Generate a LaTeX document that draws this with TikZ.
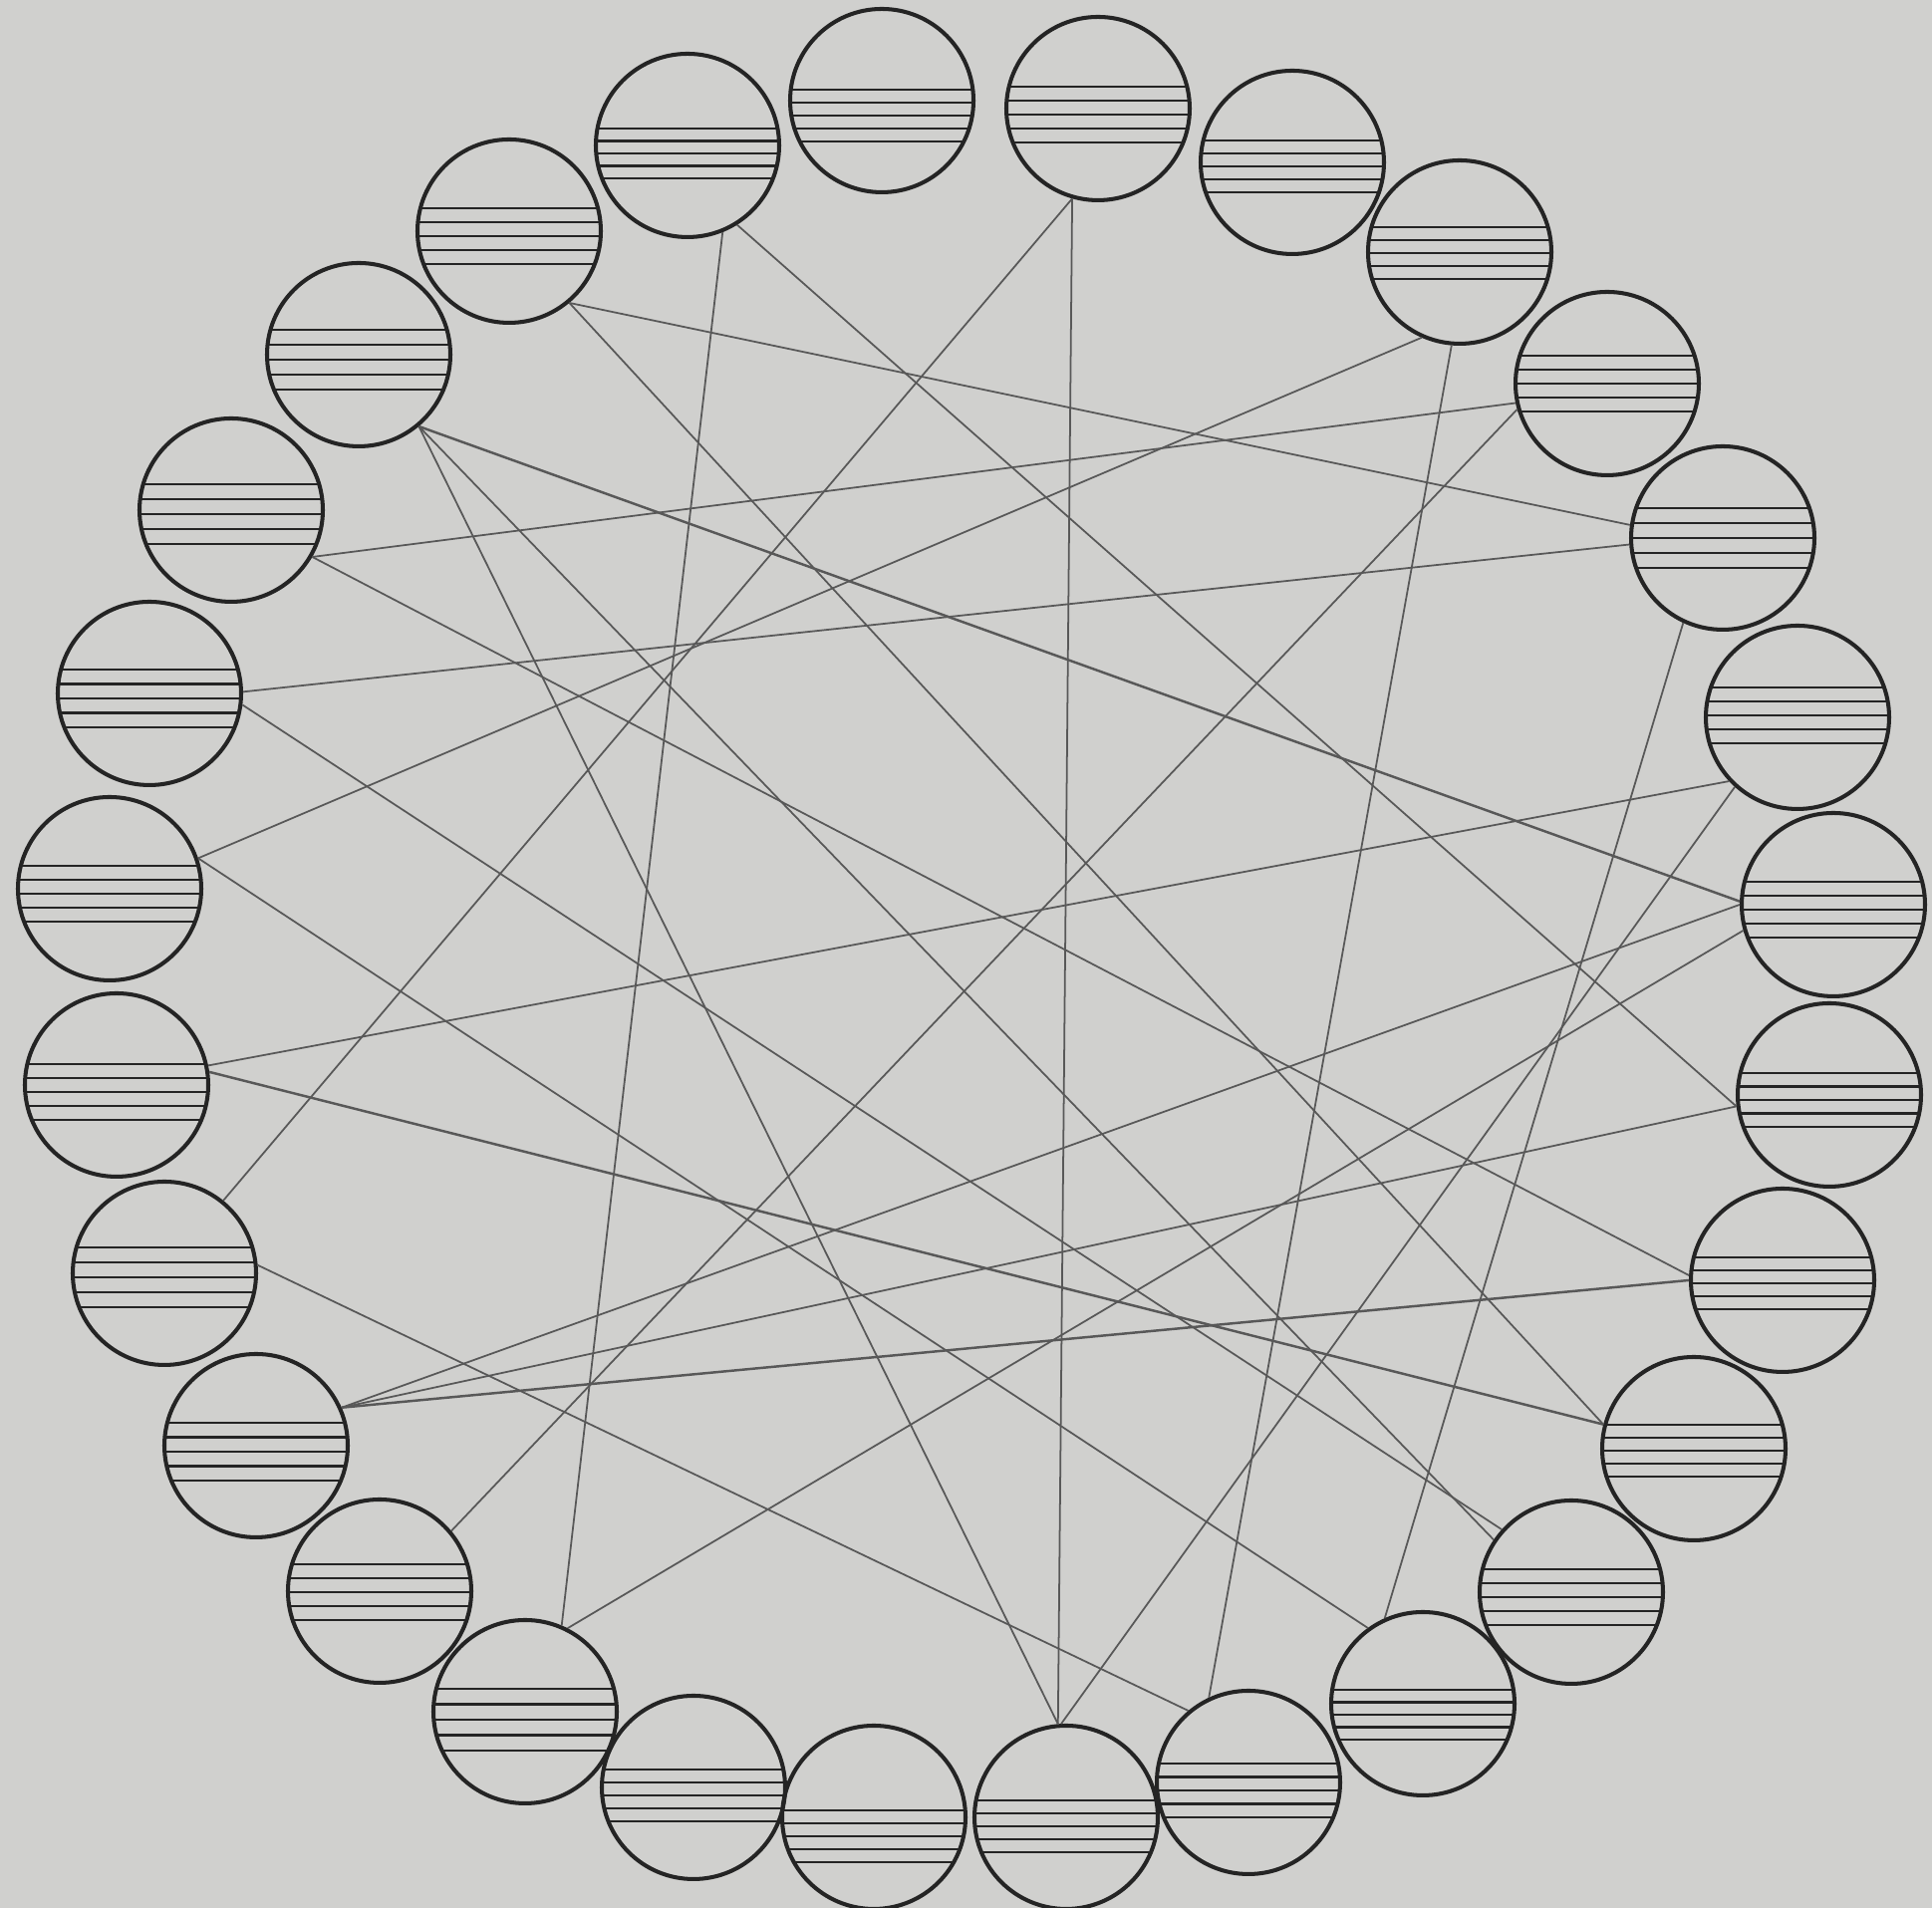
\documentclass[tikz,border=0pt]{standalone}
\usepackage{tikz}
\definecolor{paper}{RGB}{208,208,206}
\definecolor{ink}{RGB}{36,36,36}
\definecolor{pencil}{RGB}{88,88,88}
\begin{document}
\begin{tikzpicture}[
  disc/.style={draw=ink, circle, line width=1.15pt, minimum size=1.84cm, inner sep=0pt},
  staff/.style={draw=ink, line width=0.7pt},
  link/.style={draw=pencil, line width=0.5pt},
  heavy/.style={link, line width=0.7pt}
]
\useasboundingbox (0,0) rectangle (19.39,19.15);
\fill[paper] (0,0) rectangle (19.39,19.15);
\foreach \n/\x/\y in {1/8.85/18.14, 2/11.02/18.06, 3/12.97/17.52, 4/14.65/16.62,
  5/16.13/15.30, 6/17.29/13.75, 7/18.04/11.95, 8/18.40/10.07, 9/18.36/8.16,
  10/17.89/6.30, 11/17.00/4.61, 12/15.77/3.17, 13/14.28/2.05, 14/12.53/1.26,
  15/10.70/0.91, 16/8.77/0.91, 17/6.96/1.21, 18/5.27/1.97, 19/3.81/3.18,
  20/2.57/4.64, 21/1.65/6.37, 22/1.17/8.26, 23/1.10/10.23, 24/1.50/12.19,
  25/2.32/14.03, 26/3.60/15.59, 27/5.11/16.83, 28/6.90/17.69} {
  \node[disc] (c\n) at (\x,\y) {};
}
\foreach \n/\t/\s in {1/-0.11/0.13, 2/-0.22/0.14, 3/-0.22/0.13, 4/-0.25/0.13,
  5/-0.28/0.14, 6/-0.30/0.15, 7/-0.30/0.14, 8/-0.23/0.14, 9/-0.22/0.135,
  10/-0.23/0.13, 11/-0.24/0.13, 12/-0.23/0.14, 13/-0.14/0.125, 14/-0.19/0.135,
  15/-0.17/0.13, 16/-0.07/0.13, 17/-0.18/0.13, 18/-0.23/0.155, 19/-0.27/0.14,
  20/-0.23/0.145, 21/-0.26/0.15, 22/-0.21/0.14, 23/-0.23/0.14, 24/-0.24/0.145,
  25/-0.26/0.15, 26/-0.25/0.15, 27/-0.23/0.14, 28/-0.17/0.125} {
  \foreach \k in {0,...,4} {
    \pgfmathsetmacro{\yy}{-(\t+\k*\s)}
    \pgfmathsetmacro{\hw}{sqrt(0.8464-(\yy)*(\yy))}
    \draw[staff, shift={(c\n.center)}] (-\hw,\yy) -- (\hw,\yy);
  }
}
\draw[link] (c28.-68) -- (c18.67);
\draw[link] (c28.-58) -- (c9.187);
\draw[link] (c27.-50) -- (c6.172);
\draw[link] (c27.-50) -- (c11.165);
\draw[heavy] (c26.-50) -- (c8.178);
\draw[link] (c26.-50) -- (c12.146);
\draw[link] (c26.-50) -- (c15.95);
\draw[link] (c25.-30) -- (c5.192);
\draw[link] (c25.-30) -- (c10.177);
\draw[link] (c24.1) -- (c6.184);
\draw[link] (c24.-7) -- (c12.138);
\draw[link] (c23.19) -- (c4.246);
\draw[link] (c23.19) -- (c13.126);
\draw[link] (c22.12) -- (c7.223);
\draw[heavy] (c22.8) -- (c11.165);
\draw[link] (c21.51) -- (c2.254);
\draw[link] (c21.5) -- (c14.130);
\draw[link] (c20.24) -- (c8.180);
\draw[link] (c20.24) -- (c9.187);
\draw[heavy] (c20.24) -- (c10.180);
\draw[link] (c19.40) -- (c5.196);
\draw[link] (c18.63) -- (c8.196);
\draw[link] (c15.95) -- (c2.254);
\draw[link] (c15.93) -- (c7.228);
\draw[link] (c14.115) -- (c4.265);
\draw[link] (c13.114) -- (c6.245);
\end{tikzpicture}
\end{document}
